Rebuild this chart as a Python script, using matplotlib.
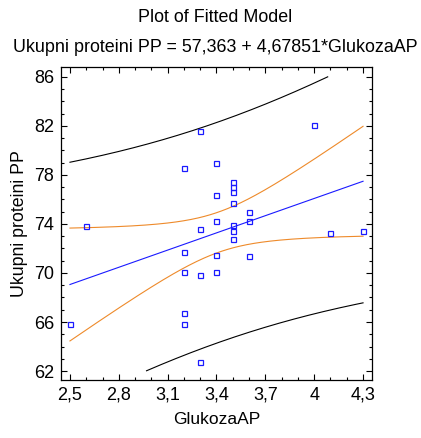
import numpy as np
import matplotlib
matplotlib.use("Agg")
import matplotlib.pyplot as plt
from matplotlib.ticker import FixedLocator, FuncFormatter

# Data
glukoza = [2.5, 2.6,
           3.2, 3.2, 3.2, 3.2, 3.2,
           3.3, 3.3, 3.3, 3.3,
           3.4, 3.4, 3.4, 3.4, 3.4,
           3.5, 3.5, 3.5, 3.5, 3.5, 3.5, 3.5,
           3.6, 3.6, 3.6,
           4.0, 4.1, 4.3]
proteini = [65.8, 73.8,
            78.6, 71.7, 70.1, 66.7, 65.8,
            81.6, 73.6, 69.8, 62.7,
            79.0, 76.4, 74.2, 71.5, 70.1,
            77.4, 77.0, 76.6, 75.7, 73.9, 73.4, 72.8,
            75.0, 74.2, 71.4,
            82.1, 73.3, 73.4]
intercept = 57.363
slope = 4.67851
t95 = 2.05
x_ticks = [2.5, 2.8, 3.1, 3.4, 3.7, 4.0, 4.3]
y_ticks = [62, 66, 70, 74, 78, 82, 86]

x = np.array(glukoza)
y = np.array(proteini)
n = len(x)
xbar = x.mean()
sxx = ((x - xbar) ** 2).sum()
resid = y - (intercept + slope * x)
s = np.sqrt((resid ** 2).sum() / (n - 2))

xg = np.linspace(2.5, 4.3, 200)
yfit = intercept + slope * xg
se_mean = s * np.sqrt(1.0 / n + (xg - xbar) ** 2 / sxx)
se_pred = s * np.sqrt(1.0 + 1.0 / n + (xg - xbar) ** 2 / sxx)

def clip(v):
    v = v.copy()
    v[(v < 62) | (v > 86)] = np.nan
    return v

plt.rcParams['font.family'] = ['Liberation Sans', 'DejaVu Sans']
fig = plt.figure(figsize=(4.21, 4.38), dpi=100)
ax = fig.add_axes([61 / 421, 58 / 438, 311 / 421, 313 / 438])

lw = 0.8
ax.plot(xg, clip(yfit + t95 * se_pred), color='black', lw=lw)
ax.plot(xg, clip(yfit - t95 * se_pred), color='black', lw=lw)
ax.plot(xg, clip(yfit + t95 * se_mean), color='#ee8a2a', lw=lw)
ax.plot(xg, clip(yfit - t95 * se_mean), color='#ee8a2a', lw=lw)
ax.plot(xg, yfit, color='#1a1aff', lw=lw)
ax.plot(x, y, ls='none', marker='s', ms=3.6, mfc='none', mec='#1a1aff', mew=0.9)

ax.set_xlim(2.445, 4.355)
ax.set_ylim(61.27, 86.8)
ax.xaxis.set_major_locator(FixedLocator(x_ticks))
ax.xaxis.set_minor_locator(FixedLocator(np.round(np.arange(2.5, 4.31, 0.1), 2)))
ax.yaxis.set_major_locator(FixedLocator(y_ticks))
ax.yaxis.set_minor_locator(FixedLocator(np.arange(62, 87, 1)))
ax.xaxis.set_major_formatter(FuncFormatter(lambda v, p: ('%g' % round(v, 2)).replace('.', ',')))
ax.tick_params(which='both', direction='in', top=True, right=True, labelsize=13, width=0.8)
ax.tick_params(which='major', length=4, pad=5)
ax.tick_params(which='minor', length=2)
for sp in ax.spines.values():
    sp.set_linewidth(0.9)

ax.set_xlabel('GlukozaAP', fontsize=12.5, labelpad=6)
ax.set_ylabel('Ukupni proteini PP', fontsize=12.8, labelpad=4)
fig.text(0.512, 1 - 18 / 438, 'Plot of Fitted Model', ha='center', va='center', fontsize=12.9)
fig.text(0.512, 1 - 47 / 438, 'Ukupni proteini PP = 57,363 + 4,67851*GlukozaAP', ha='center', va='center', fontsize=12.9)

fig.savefig('out.png', dpi=100)
